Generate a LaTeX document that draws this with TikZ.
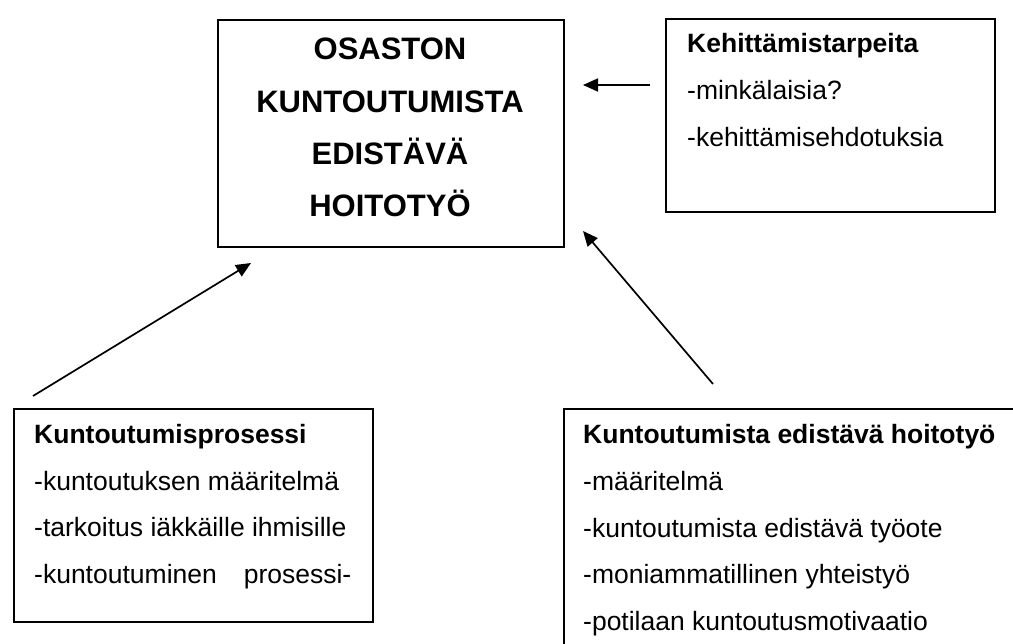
\documentclass[tikz,border=0pt]{standalone}
\usepackage{fontspec}
\setmainfont{Liberation Sans}
\usetikzlibrary{arrows.meta}
\begin{document}
\begin{tikzpicture}[x=1pt,y=-1pt,
  box/.style={draw,line width=1.8pt,rectangle,inner sep=0pt,anchor=north west},
  txt/.style={anchor=base west,inner sep=0pt,font=\fontsize{26.5}{30}\selectfont},
  hd/.style={anchor=base west,inner sep=0pt,font=\fontsize{26.5}{30}\selectfont\bfseries},
  ttl/.style={anchor=base,inner sep=0pt,font=\fontsize{31}{36}\selectfont\bfseries},
  arr/.style={line width=1.7pt,-{Triangle[length=15pt,width=13pt]}}]
\useasboundingbox (0,0) rectangle (1013,644);
\clip (0,0) rectangle (1013,644);
% boxes
\node[box,minimum width=346pt,minimum height=227pt] (main) at (217,19) {};
\node[box,minimum width=329pt,minimum height=193pt] (tr) at (665,18) {};
\node[box,minimum width=359pt,minimum height=213pt] (bl) at (13,408) {};
\node[box,minimum width=477pt,minimum height=262pt] (br) at (563,408) {};
% title
\node[ttl] (t1) at (390,60) {OSASTON};
\node[ttl] (t2) at (390,113) {KUNTOUTUMISTA};
\node[ttl] (t3) at (390,165) {EDISTÄVÄ};
\node[ttl] (t4) at (390,217) {HOITOTYÖ};
% top right
\node[hd] (k1) at (687,53) {Kehittämistarpeita};
\node[txt] (k2) at (687,100) {-minkälaisia?};
\node[txt] (k3) at (687,147) {-kehittämisehdotuksia};
% bottom left
\node[hd] (p1) at (34,444) {Kuntoutumisprosessi};
\node[txt] (p2) at (34,490) {-kuntoutuksen määritelmä};
\node[txt] (p3) at (34,536) {-tarkoitus iäkkäille ihmisille};
\node[txt] (p4) at (34,583) {-kuntoutuminen\hspace{27pt}prosessi-};
% bottom right
\node[hd] (h1) at (583,443) {Kuntoutumista edistävä hoitotyö};
\node[txt] (h2) at (583,490) {-määritelmä};
\node[txt] (h3) at (583,537) {-kuntoutumista edistävä työote};
\node[txt] (h4) at (583,583) {-moniammatillinen yhteistyö};
\node[txt] (h5) at (583,630) {-potilaan kuntoutusmotivaatio};
% arrows
\coordinate (a1s) at (650,85);
\coordinate (a1e) at (583,85);
\coordinate (a2s) at (33,396);
\coordinate (a2e) at (251,263);
\coordinate (a3s) at (713,384);
\coordinate (a3e) at (583,231);
\draw[arr] (a1s) -- (a1e);
\draw[arr] (a2s) -- (a2e);
\draw[arr] (a3s) -- (a3e);
\end{tikzpicture}
\end{document}
